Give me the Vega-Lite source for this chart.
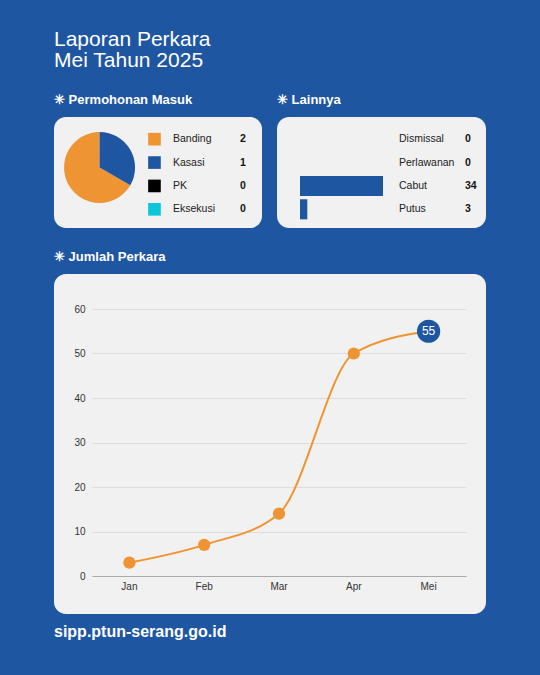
{
  "$schema": "https://vega.github.io/schema/vega-lite/v6.json",
  "background": "#1f56a2",
  "padding": {"left": 54, "right": 54, "top": 29, "bottom": 35},
  "title": {
    "text": ["Laporan Perkara", "Mei Tahun 2025"],
    "anchor": "start",
    "color": "white",
    "font": "Liberation Sans",
    "fontSize": 21,
    "fontWeight": "normal",
    "lineHeight": 21,
    "offset": 23
  },
  "config": {
    "title": {"anchor": "start", "color": "white", "font": "Liberation Sans", "fontSize": 13, "fontWeight": "bold", "offset": 10},
    "view": {"fill": "#f1f1f1", "stroke": null, "cornerRadius": 12},
    "text": {"font": "Liberation Sans"},
    "axis": {"labelFont": "Liberation Sans"}
  },
  "datasets": {
    "permohonan": [
      {"jenis": "Banding", "jumlah": 2},
      {"jenis": "Kasasi", "jumlah": 1},
      {"jenis": "PK", "jumlah": 0},
      {"jenis": "Eksekusi", "jumlah": 0}
    ],
    "lainnya": [
      {"jenis": "Dismissal", "jumlah": 0},
      {"jenis": "Perlawanan", "jumlah": 0},
      {"jenis": "Cabut", "jumlah": 34},
      {"jenis": "Putus", "jumlah": 3}
    ],
    "bulanan": [
      {"bulan": "Jan", "jumlah": 3},
      {"bulan": "Feb", "jumlah": 7},
      {"bulan": "Mar", "jumlah": 14},
      {"bulan": "Apr", "jumlah": 50},
      {"bulan": "Mei", "jumlah": 55}
    ]
  },
  "spacing": 23,
  "vconcat": [
    {
      "hconcat": [
        {
          "title": "✳ Permohonan Masuk",
          "width": 208,
          "height": 111,
          "data": {"name": "permohonan"},
          "resolve": {"scale": {"y": "independent"}, "axis": {"y": "independent"}},
          "layer": [
            {
              "mark": {"type": "arc", "outerRadius": 35.5},
              "encoding": {
                "theta": {"field": "jumlah", "type": "quantitative", "stack": true},
                "order": {"field": "jumlah", "type": "quantitative", "sort": "ascending"},
                "x": {"datum": 0.219, "type": "quantitative", "scale": {"domain": [0, 1], "nice": false, "zero": false}, "axis": null},
                "y": {"datum": 0.545, "type": "quantitative", "scale": {"domain": [0, 1], "nice": false, "zero": false}, "axis": null},
                "color": {"field": "jenis", "type": "nominal", "scale": {"domain": ["Banding", "Kasasi", "PK", "Eksekusi"], "range": ["#ef9432", "#1f56a2", "#000000", "#0bc6d8"]}, "legend": null}
              }
            },
            {
              "encoding": {
                "y": {"field": "jenis", "type": "nominal", "sort": null, "scale": {"type": "band", "range": [10.5, 104], "paddingInner": 0.14, "paddingOuter": 0.07}, "axis": null}
              },
              "layer": [
                {
                  "mark": {"type": "point", "shape": "square", "filled": true, "size": 160, "opacity": 1},
                  "encoding": {
                    "x": {"datum": 0.483, "type": "quantitative"},
                    "color": {"field": "jenis", "type": "nominal", "legend": null}
                  }
                },
                {
                  "mark": {"type": "text", "align": "left", "baseline": "middle", "fontSize": 10.5, "color": "#222222"},
                  "encoding": {
                    "x": {"datum": 0.572, "type": "quantitative"},
                    "text": {"field": "jenis"}
                  }
                },
                {
                  "mark": {"type": "text", "align": "left", "baseline": "middle", "fontSize": 10.5, "fontWeight": "bold", "color": "#111111"},
                  "encoding": {
                    "x": {"datum": 0.894, "type": "quantitative"},
                    "text": {"field": "jumlah"}
                  }
                }
              ]
            }
          ]
        },
        {
          "title": "✳ Lainnya",
          "width": 209,
          "height": 111,
          "data": {"name": "lainnya"},
          "encoding": {
            "y": {"field": "jenis", "type": "nominal", "sort": null, "scale": {"type": "band", "range": [10.5, 104], "paddingInner": 0.14, "paddingOuter": 0.07}, "axis": null}
          },
          "layer": [
            {
              "mark": {"type": "bar", "color": "#1f56a2"},
              "encoding": {
                "x": {"field": "jumlah", "type": "quantitative", "scale": {"domain": [0, 34], "range": [23, 106], "nice": false, "zero": true}, "axis": null}
              }
            },
            {
              "mark": {"type": "text", "align": "left", "baseline": "middle", "fontSize": 10.5, "color": "#222222"},
              "encoding": {
                "x": {"datum": 40.55, "type": "quantitative"},
                "text": {"field": "jenis"}
              }
            },
            {
              "mark": {"type": "text", "align": "left", "baseline": "middle", "fontSize": 10.5, "fontWeight": "bold", "color": "#111111"},
              "encoding": {
                "x": {"datum": 67.6, "type": "quantitative"},
                "text": {"field": "jumlah"}
              }
            }
          ]
        }
      ],
      "spacing": 15
    },
    {
      "title": {"text": "sipp.ptun-serang.go.id", "orient": "bottom", "anchor": "start", "fontSize": 16, "offset": 10},
      "vconcat": [
        {
          "title": "✳ Jumlah Perkara",
          "width": 432,
          "height": 340,
          "data": {"name": "bulanan"},
          "encoding": {
            "x": {
              "field": "bulan", "type": "nominal", "sort": null,
              "scale": {"type": "band", "range": [38, 412], "paddingInner": 0, "paddingOuter": 0},
              "axis": {"title": null, "labelAngle": 0, "ticks": false, "domain": true, "domainColor": "#aaaaaa", "grid": false, "offset": -38, "labelPadding": 5, "labelFontSize": 10, "labelColor": "#333333"}
            },
            "y": {
              "field": "jumlah", "type": "quantitative",
              "scale": {"domain": [0, 60], "range": [302, 35], "nice": false, "zero": true},
              "axis": {"title": null, "values": [0, 10, 20, 30, 40, 50, 60], "grid": true, "gridColor": "#dddddd", "domain": false, "ticks": false, "offset": -38, "labelPadding": 7, "labelFontSize": 10, "labelColor": "#333333"}
            }
          },
          "layer": [
            {"mark": {"type": "line", "interpolate": "monotone", "color": "#ef9432", "strokeWidth": 2}},
            {"mark": {"type": "point", "filled": true, "size": 150, "opacity": 1, "color": "#ef9432"}},
            {
              "transform": [{"filter": "datum.bulan === 'Mei'"}],
              "mark": {"type": "point", "filled": true, "size": 540, "opacity": 1, "color": "#1f56a2"}
            },
            {
              "transform": [{"filter": "datum.bulan === 'Mei'"}],
              "mark": {"type": "text", "color": "white", "fontSize": 12, "baseline": "middle", "align": "center"},
              "encoding": {"text": {"field": "jumlah"}}
            }
          ]
        }
      ]
    }
  ]
}
